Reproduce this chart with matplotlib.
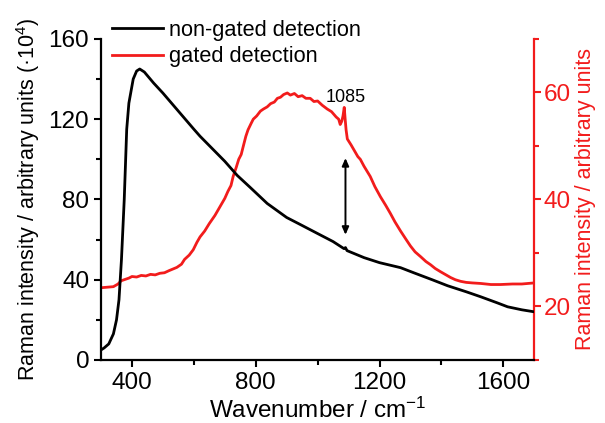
import numpy as np
import matplotlib
matplotlib.use('Agg')
import matplotlib.pyplot as plt

plt.rcParams['font.family'] = ['Liberation Sans', 'DejaVu Sans']
plt.rcParams['mathtext.fontset'] = 'custom'
plt.rcParams['mathtext.rm'] = 'Liberation Sans'
plt.rcParams['mathtext.it'] = 'Liberation Sans:italic'
plt.rcParams['mathtext.bf'] = 'Liberation Sans:bold'

# non-gated detection (left axis, x10^4)
wn_black = [300, 310, 325, 340, 350, 358, 366, 375, 383, 390, 404, 415, 425, 440, 470, 500,
            550, 600, 620, 700, 740, 782, 837, 900, 944, 1000, 1050, 1075, 1085, 1090, 1095,
            1150, 1200, 1268, 1310, 1370, 1420, 1480, 1527, 1580, 1614, 1660, 1700]
int_black = [5, 6, 8, 13, 20, 30, 50, 80, 115, 128, 140, 144, 145, 143.5, 138, 133,
             124, 115, 111.5, 99, 92, 86, 78, 71, 67.5, 63, 59, 56.5, 55.5, 56, 54.5,
             51, 48.5, 46, 43.5, 40, 37, 34, 31.5, 28.5, 26.5, 25, 24]

# gated detection (right axis)
wn_red = [300, 320, 340, 355, 365, 375, 390, 400, 415, 430, 445, 460, 475, 490, 505, 520, 545,
          560, 570, 585, 598, 610, 620, 635, 650, 668, 685, 700, 710, 720, 727, 737, 745, 753,
          760, 768, 775, 785, 792, 803, 815, 825, 837, 848, 860, 870, 880, 890, 902, 912, 925,
          937, 950, 962, 976, 988, 1000, 1015, 1031, 1045, 1060, 1068, 1073, 1078, 1082, 1086,
          1089, 1092, 1096, 1108, 1120, 1130, 1138, 1150, 1170, 1185, 1203, 1220, 1235, 1250,
          1268, 1285, 1300, 1315, 1333, 1350, 1365, 1380, 1397, 1415, 1430, 1445, 1462, 1480,
          1500, 1527, 1560, 1591, 1630, 1660, 1700]
int_red = [23.5, 23.6, 23.7, 24.2, 24.8, 25.0, 25.3, 25.6, 25.5, 25.8, 25.7, 26.0, 25.9, 26.2,
           26.3, 26.7, 27.3, 27.9, 28.8, 29.6, 30.6, 32.0, 33.0, 34.1, 35.5, 37.0, 38.7, 40.2,
           41.5, 42.6, 44.3, 46.0, 47.5, 48.4, 50.0, 51.8, 53.0, 54.2, 55.0, 55.6, 56.5, 56.9,
           57.3, 57.9, 58.2, 58.9, 59.1, 59.6, 59.9, 59.5, 59.8, 59.2, 59.4, 58.9, 58.9, 58.3,
           58.4, 57.6, 56.9, 56.4, 55.4, 55.0, 54.0, 54.6, 55.6, 57.2, 55.0, 53.0, 51.3, 50.2,
           49.0, 48.0, 47.5, 46.2, 44.3, 42.4, 40.5, 38.9, 37.4, 35.8, 34.1, 32.6, 31.3, 30.2,
           29.3, 28.4, 27.8, 27.1, 26.5, 25.9, 25.4, 25.0, 24.7, 24.5, 24.4, 24.3, 24.1, 24.1,
           24.2, 24.2, 24.4]

red = '#f21c1c'

fig = plt.figure(figsize=(6.05, 4.23), dpi=100)
ax = fig.add_axes([0.167, 0.149, 0.716, 0.759])
ax2 = ax.twinx()

l1, = ax.plot(wn_black, int_black, color='black', lw=2, label='non-gated detection')
l2, = ax2.plot(wn_red, int_red, color=red, lw=2, label='gated detection')
ax.set_zorder(ax2.get_zorder() + 1)
ax.patch.set_visible(False)

ax.set_xlim(300, 1700)
ax.set_ylim(0, 160)
ax2.set_ylim(10, 70)

ax.set_xticks([400, 800, 1200, 1600])
ax.set_xticks([600, 1000, 1400], minor=True)
ax.set_yticks([0, 40, 80, 120, 160])
ax.set_yticks([20, 60, 100, 140], minor=True)
ax2.set_yticks([20, 40, 60])
ax2.set_yticks([10, 30, 50, 70], minor=True)

for a in (ax, ax2):
    a.spines['top'].set_visible(False)
    a.tick_params(which='major', direction='out', length=5, width=1.5, labelsize=17.5)
    a.tick_params(which='minor', direction='out', length=3.5, width=1.5)
ax.spines['right'].set_visible(False)
ax.spines['left'].set_linewidth(1.6)
ax.spines['bottom'].set_linewidth(1.6)
ax2.spines['left'].set_visible(False)
ax2.spines['bottom'].set_visible(False)
ax2.spines['right'].set_color(red)
ax2.spines['right'].set_linewidth(1.6)
ax2.tick_params(axis='y', which='both', colors=red, pad=2)

ax.set_xlabel('Wavenumber / cm$^{-1}$', fontsize=17.5, labelpad=3)
ax.set_ylabel('Raman intensity / arbitrary units (·10$^4$)', fontsize=15.5, labelpad=5)
ax2.set_ylabel('Raman intensity / arbitrary units', fontsize=15.5, color=red, labelpad=3)

ax.annotate('', xy=(1090, 61), xytext=(1090, 102),
            arrowprops=dict(arrowstyle='<|-|>,head_length=0.45,head_width=0.2', color='black', lw=1.4))
ax.text(1090, 131, '1085', fontsize=13, ha='center', va='center')

fig.legend(handles=[l1, l2], loc='upper left', bbox_to_anchor=(112 / 605, 1 - 20 / 423),
           frameon=False, fontsize=15.7, handlelength=2.35, handletextpad=0.25,
           labelspacing=0.25, borderpad=0, borderaxespad=0)

fig.savefig('out.png', dpi=100)
